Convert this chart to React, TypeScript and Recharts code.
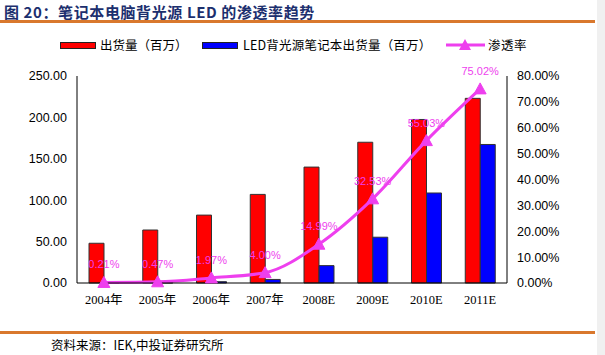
import { ComposedChart, Bar, Line, XAxis, YAxis, LabelList } from "recharts";

const years = ["2004年", "2005年", "2006年", "2007年", "2008E", "2009E", "2010E", "2011E"];
const shipments = [48, 64, 82, 107, 140, 170, 197.5, 223];
const ledShipments = [0.1, 0.3, 1.6, 4.3, 21, 55.3, 108.7, 167.3];
const penetration = [0.21, 0.47, 1.97, 4.0, 14.99, 32.53, 55.03, 75.02];
const leftTicks = [0, 50, 100, 150, 200, 250];
const rightTicks = [0, 10, 20, 30, 40, 50, 60, 70, 80];

const RED = "#FF0000";
const BLUE = "#0000FF";
const PINK = "#EE3FEE";
const ORANGE = "#D9782D";
const CJK = '"Noto Sans CJK SC", sans-serif';
const SERIF = '"Liberation Serif", "Noto Sans CJK SC", serif';

const data = years.map((y, i) => ({
  year: y,
  total: shipments[i],
  led: ledShipments[i],
  rate: penetration[i],
}));

function Triangle(props: any) {
  const { cx, cy } = props;
  if (cx == null || cy == null) return null;
  return (
    <path
      d={`M${cx},${cy - 6} L${cx + 6},${cy + 5} L${cx - 6},${cy + 5} Z`}
      fill={PINK}
      stroke={PINK}
    />
  );
}

const legendText = {
  position: "absolute" as const,
  top: 37,
  fontFamily: CJK,
  fontSize: 12.5,
  lineHeight: "16px",
  color: "#000",
  whiteSpace: "nowrap" as const,
};

function Swatch({ color, left }: { color: string; left: number }) {
  return (
    <div
      style={{
        position: "absolute",
        left,
        top: 42,
        width: 34,
        height: 5,
        background: color,
        border: "1px solid #222",
      }}
    />
  );
}

export default function App() {
  return (
    <div
      style={{
        position: "fixed",
        left: 0,
        top: 0,
        width: 605,
        height: 355,
        background: "#fff",
        overflow: "hidden",
      }}
    >
      <div
        style={{
          position: "absolute",
          left: 4,
          top: 1,
          fontFamily: CJK,
          fontWeight: 700,
          fontSize: 15,
          letterSpacing: 0.6,
          color: "#1C2F6E",
          whiteSpace: "nowrap",
        }}
      >
        图 20：笔记本电脑背光源 LED 的渗透率趋势
      </div>
      <div style={{ position: "absolute", left: 0, top: 20, width: 595, height: 3, background: ORANGE }} />
      <div style={{ position: "absolute", left: 597, top: 0, width: 8, height: 355, background: "#F0F0F0" }} />

      <Swatch color={RED} left={60} />
      <div style={{ ...legendText, left: 100 }}>出货量（百万）</div>
      <Swatch color={BLUE} left={202} />
      <div style={{ ...legendText, left: 243, letterSpacing: 0.2 }}>LED背光源笔记本出货量（百万）</div>
      <svg width={40} height={14} style={{ position: "absolute", left: 446, top: 38 }}>
        <line x1={0} y1={7} x2={39} y2={7} stroke={PINK} strokeWidth={3} />
        <path d="M19,1 L25,12 L13,12 Z" fill={PINK} />
      </svg>
      <div style={{ ...legendText, left: 488, letterSpacing: 0.5 }}>渗透率</div>

      <div style={{ position: "absolute", left: 0, top: 0 }}>
        <ComposedChart
          width={605}
          height={355}
          data={data}
          margin={{ top: 76, right: 0, left: 0, bottom: 42 }}
          barGap={0}
          barSize={15}
        >
          <XAxis
            dataKey="year"
            axisLine={{ stroke: "#000" }}
            tickLine={false}
            tickSize={6}
            tickMargin={6}
            height={30}
            tick={{ fill: "#000", fontSize: 12.5, fontFamily: SERIF }}
            interval={0}
          />
          <YAxis
            yAxisId="left"
            orientation="left"
            width={77}
            domain={[0, 250]}
            ticks={leftTicks}
            tickFormatter={(v: number) => v.toFixed(2)}
            axisLine={{ stroke: "#000" }}
            tickLine={false}
            tickSize={6}
            tickMargin={4}
            tick={{ fill: "#000", fontSize: 12.5, fontFamily: '"Liberation Sans", Arial, sans-serif' }}
          />
          <YAxis
            yAxisId="right"
            orientation="right"
            width={98}
            domain={[0, 80]}
            ticks={rightTicks}
            tickFormatter={(v: number) => v.toFixed(2) + "%"}
            axisLine={{ stroke: "#000" }}
            tickLine={false}
            tickSize={6}
            tickMargin={4}
            tick={{ fill: "#000", fontSize: 12.5, fontFamily: '"Liberation Sans", Arial, sans-serif' }}
          />
          <Bar
            yAxisId="left"
            dataKey="total"
            fill={RED}
            stroke="#333"
            strokeWidth={1}
            isAnimationActive={false}
          />
          <Bar
            yAxisId="left"
            dataKey="led"
            fill={BLUE}
            stroke="#333"
            strokeWidth={1}
            isAnimationActive={false}
          />
          <Line
            yAxisId="right"
            type="monotone"
            dataKey="rate"
            stroke={PINK}
            strokeWidth={3}
            dot={<Triangle />}
            activeDot={false}
            isAnimationActive={false}
          >
            <LabelList
              dataKey="rate"
              position="top"
              offset={14}
              formatter={(v: any) => Number(v).toFixed(2) + "%"}
              style={{
                fill: PINK,
                fontSize: 11,
                fontFamily: '"Liberation Sans", Arial, sans-serif',
              }}
            />
          </Line>
        </ComposedChart>
      </div>

      <div style={{ position: "absolute", left: 0, top: 331, width: 595, height: 3, background: ORANGE }} />
      <div
        style={{
          position: "absolute",
          left: 51,
          top: 335,
          fontFamily: CJK,
          fontSize: 12.5,
          color: "#000",
          whiteSpace: "nowrap",
        }}
      >
        资料来源：IEK,中投证券研究所
      </div>
    </div>
  );
}
